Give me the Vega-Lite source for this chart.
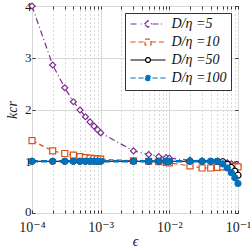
{
  "$schema": "https://vega.github.io/schema/vega-lite/v6.json",
  "width": 206,
  "height": 207,
  "autosize": {"type": "none"},
  "padding": {"left": 32, "top": 6, "right": 12, "bottom": 36},
  "background": "white",
  "config": {
    "view": {"stroke": "#333333", "strokeWidth": 1},
    "font": "Liberation Serif, DejaVu Serif, serif",
    "axis": {"labelFont": "Liberation Serif, DejaVu Serif, serif", "labelFontSize": 13, "labelColor": "#222222", "titleFont": "Liberation Serif, DejaVu Serif, serif", "titleColor": "#222222", "titleFontWeight": "normal", "domain": false, "tickColor": "#333333"}
  },
  "data": {"values": [
    {"eps": 0.0001, "k": 4.0, "series": "D/η =5"},
    {"eps": 0.0002, "k": 2.86, "series": "D/η =5"},
    {"eps": 0.0003, "k": 2.42, "series": "D/η =5"},
    {"eps": 0.0004, "k": 2.15, "series": "D/η =5"},
    {"eps": 0.0005, "k": 1.99, "series": "D/η =5"},
    {"eps": 0.0006, "k": 1.86, "series": "D/η =5"},
    {"eps": 0.0007, "k": 1.76, "series": "D/η =5"},
    {"eps": 0.0008, "k": 1.68, "series": "D/η =5"},
    {"eps": 0.0009, "k": 1.61, "series": "D/η =5"},
    {"eps": 0.001, "k": 1.55, "series": "D/η =5"},
    {"eps": 0.003, "k": 1.2, "series": "D/η =5"},
    {"eps": 0.005, "k": 1.13, "series": "D/η =5"},
    {"eps": 0.007, "k": 1.09, "series": "D/η =5"},
    {"eps": 0.009, "k": 1.07, "series": "D/η =5"},
    {"eps": 0.01, "k": 1.06, "series": "D/η =5"},
    {"eps": 0.02, "k": 1.02, "series": "D/η =5"},
    {"eps": 0.03, "k": 1.01, "series": "D/η =5"},
    {"eps": 0.04, "k": 1.0, "series": "D/η =5"},
    {"eps": 0.05, "k": 1.0, "series": "D/η =5"},
    {"eps": 0.06, "k": 0.99, "series": "D/η =5"},
    {"eps": 0.07, "k": 0.97, "series": "D/η =5"},
    {"eps": 0.08, "k": 0.95, "series": "D/η =5"},
    {"eps": 0.09, "k": 0.93, "series": "D/η =5"},
    {"eps": 0.1, "k": 0.92, "series": "D/η =5"},
    {"eps": 0.0001, "k": 1.4, "series": "D/η =10"},
    {"eps": 0.0002, "k": 1.2, "series": "D/η =10"},
    {"eps": 0.0003, "k": 1.15, "series": "D/η =10"},
    {"eps": 0.0004, "k": 1.12, "series": "D/η =10"},
    {"eps": 0.0005, "k": 1.09, "series": "D/η =10"},
    {"eps": 0.0006, "k": 1.07, "series": "D/η =10"},
    {"eps": 0.0007, "k": 1.06, "series": "D/η =10"},
    {"eps": 0.0008, "k": 1.05, "series": "D/η =10"},
    {"eps": 0.0009, "k": 1.045, "series": "D/η =10"},
    {"eps": 0.001, "k": 1.04, "series": "D/η =10"},
    {"eps": 0.003, "k": 1.01, "series": "D/η =10"},
    {"eps": 0.005, "k": 1.0, "series": "D/η =10"},
    {"eps": 0.007, "k": 0.99, "series": "D/η =10"},
    {"eps": 0.009, "k": 0.98, "series": "D/η =10"},
    {"eps": 0.01, "k": 0.97, "series": "D/η =10"},
    {"eps": 0.02, "k": 0.91, "series": "D/η =10"},
    {"eps": 0.03, "k": 0.87, "series": "D/η =10"},
    {"eps": 0.04, "k": 0.87, "series": "D/η =10"},
    {"eps": 0.05, "k": 0.88, "series": "D/η =10"},
    {"eps": 0.06, "k": 0.89, "series": "D/η =10"},
    {"eps": 0.07, "k": 0.9, "series": "D/η =10"},
    {"eps": 0.08, "k": 0.9, "series": "D/η =10"},
    {"eps": 0.09, "k": 0.9, "series": "D/η =10"},
    {"eps": 0.1, "k": 0.89, "series": "D/η =10"},
    {"eps": 0.0001, "k": 1.0, "series": "D/η =50"},
    {"eps": 0.0002, "k": 1.0, "series": "D/η =50"},
    {"eps": 0.0003, "k": 1.0, "series": "D/η =50"},
    {"eps": 0.0004, "k": 1.0, "series": "D/η =50"},
    {"eps": 0.0005, "k": 1.0, "series": "D/η =50"},
    {"eps": 0.0006, "k": 1.0, "series": "D/η =50"},
    {"eps": 0.0007, "k": 1.0, "series": "D/η =50"},
    {"eps": 0.0008, "k": 1.0, "series": "D/η =50"},
    {"eps": 0.0009, "k": 1.0, "series": "D/η =50"},
    {"eps": 0.001, "k": 1.0, "series": "D/η =50"},
    {"eps": 0.003, "k": 1.0, "series": "D/η =50"},
    {"eps": 0.005, "k": 1.0, "series": "D/η =50"},
    {"eps": 0.007, "k": 1.0, "series": "D/η =50"},
    {"eps": 0.009, "k": 1.0, "series": "D/η =50"},
    {"eps": 0.01, "k": 1.0, "series": "D/η =50"},
    {"eps": 0.02, "k": 1.0, "series": "D/η =50"},
    {"eps": 0.03, "k": 1.0, "series": "D/η =50"},
    {"eps": 0.04, "k": 1.0, "series": "D/η =50"},
    {"eps": 0.05, "k": 1.0, "series": "D/η =50"},
    {"eps": 0.06, "k": 0.99, "series": "D/η =50"},
    {"eps": 0.07, "k": 0.94, "series": "D/η =50"},
    {"eps": 0.08, "k": 0.88, "series": "D/η =50"},
    {"eps": 0.09, "k": 0.81, "series": "D/η =50"},
    {"eps": 0.1, "k": 0.73, "series": "D/η =50"},
    {"eps": 0.0001, "k": 1.0, "series": "D/η =100"},
    {"eps": 0.0002, "k": 1.0, "series": "D/η =100"},
    {"eps": 0.0003, "k": 1.0, "series": "D/η =100"},
    {"eps": 0.0004, "k": 1.0, "series": "D/η =100"},
    {"eps": 0.0005, "k": 1.0, "series": "D/η =100"},
    {"eps": 0.0006, "k": 1.0, "series": "D/η =100"},
    {"eps": 0.0007, "k": 1.0, "series": "D/η =100"},
    {"eps": 0.0008, "k": 1.0, "series": "D/η =100"},
    {"eps": 0.0009, "k": 1.0, "series": "D/η =100"},
    {"eps": 0.001, "k": 1.0, "series": "D/η =100"},
    {"eps": 0.003, "k": 1.0, "series": "D/η =100"},
    {"eps": 0.005, "k": 1.0, "series": "D/η =100"},
    {"eps": 0.007, "k": 1.0, "series": "D/η =100"},
    {"eps": 0.009, "k": 1.0, "series": "D/η =100"},
    {"eps": 0.01, "k": 1.0, "series": "D/η =100"},
    {"eps": 0.02, "k": 1.0, "series": "D/η =100"},
    {"eps": 0.03, "k": 1.0, "series": "D/η =100"},
    {"eps": 0.04, "k": 1.0, "series": "D/η =100"},
    {"eps": 0.05, "k": 1.0, "series": "D/η =100"},
    {"eps": 0.06, "k": 0.95, "series": "D/η =100"},
    {"eps": 0.07, "k": 0.87, "series": "D/η =100"},
    {"eps": 0.08, "k": 0.78, "series": "D/η =100"},
    {"eps": 0.09, "k": 0.68, "series": "D/η =100"},
    {"eps": 0.1, "k": 0.57, "series": "D/η =100"}
  ]},
  "layer": [
    {
      "mark": {"type": "line"},
      "encoding": {
        "x": {
          "field": "eps", "type": "quantitative",
          "scale": {"type": "log", "domain": [0.0001, 0.1], "nice": false},
          "axis": {
            "orient": "bottom",
            "values": [0.0001, 0.0002, 0.0003, 0.0004, 0.0005, 0.0006, 0.0007, 0.0008, 0.0009, 0.001, 0.002, 0.003, 0.004, 0.005, 0.006, 0.007, 0.008, 0.009, 0.01, 0.02, 0.03, 0.04, 0.05, 0.06, 0.07, 0.08, 0.09, 0.1],
            "labelExpr": "datum.value == 0.0001 ? '10⁻⁴' : datum.value == 0.001 ? '10⁻³' : datum.value == 0.01 ? '10⁻²' : datum.value == 0.1 ? '10⁻¹' : ''",
            "labelOverlap": false,
            "labelFlush": false,
            "labelPadding": 10,
            "labelFontSize": 14,
            "tickSize": -3,
            "grid": true,
            "gridColor": {"condition": {"test": "datum.value == 0.0001 || datum.value == 0.001 || datum.value == 0.01 || datum.value == 0.1", "value": "#d8d8d8"}, "value": "#b5b5b5"},
            "gridDash": {"condition": {"test": "datum.value == 0.0001 || datum.value == 0.001 || datum.value == 0.01 || datum.value == 0.1", "value": []}, "value": [1, 3]},
            "title": "ϵ",
            "titleFontSize": 14,
            "titleFontStyle": "italic",
            "titlePadding": 0
          }
        },
        "y": {
          "field": "k", "type": "quantitative",
          "scale": {"domain": [0, 4], "nice": false},
          "axis": {
            "orient": "left",
            "values": [0, 1, 2, 3, 4],
            "grid": true,
            "gridColor": "#d8d8d8",
            "tickSize": -3,
            "labelPadding": 4,
            "labelOffset": {"condition": {"test": "datum.value == 0", "value": -2}, "value": 0},
            "title": "kcr",
            "titleFontSize": 14,
            "titleFontStyle": "italic",
            "titlePadding": 5
          }
        },
        "color": {
          "field": "series", "type": "nominal",
          "scale": {"domain": ["D/η =5", "D/η =10", "D/η =50", "D/η =100"], "range": ["#7E2F8E", "#D95319", "#000000", "#0072BD"]},
          "legend": {
            "orient": "top-right", "offset": 7, "title": null,
            "symbolType": "stroke", "symbolSize": 1225, "symbolStrokeWidth": 1.2, "symbolOffset": 0,
            "clipHeight": 13,
            "labelFont": "Liberation Serif, DejaVu Serif, serif", "labelFontSize": 14, "labelFontStyle": "italic", "labelColor": "#111111",
            "labelOffset": 5, "rowPadding": 3, "padding": 4.5,
            "fillColor": "white", "strokeColor": "#333333", "cornerRadius": 0,
            "encode": {
              "legend": {"update": {"stroke": {"value": "#333333"}, "strokeWidth": {"value": 1}, "fill": {"value": "white"}}},
              "symbols": {"update": {
                "shape": {"signal": "datum.value === 'D/η =5' ? 'M-1,0H-0.55M-0.42,0H-0.36M-0.2,0L0,-0.2L0.2,0L0,0.2ZM0.26,0H0.6M0.74,0H0.8' : datum.value === 'D/η =10' ? 'M-1,0H-0.17M-0.17,-0.17H0.17V0.17H-0.17ZM0.17,0H1' : datum.value === 'D/η =50' ? 'M-1,0H-0.14M-0.14,0A0.14,0.14 0 1,0 0.14,0A0.14,0.14 0 1,0 -0.14,0ZM0.14,0H1' : 'M-1,0H-0.7M-0.55,0H-0.25M-0.15,0A0.15,0.15 0 1,0 0.15,0A0.15,0.15 0 1,0 -0.15,0ZM0.25,0H0.55M0.7,0H1'"},
                "fill": {"signal": "datum.value === 'D/η =100' ? '#0072BD' : 'white'"},
                "strokeWidth": {"value": 1.2},
                "strokeDash": {"value": []}
              }}
            }
          }
        },
        "strokeDash": {
          "field": "series", "type": "nominal",
          "scale": {"domain": ["D/η =5", "D/η =10", "D/η =50", "D/η =100"], "range": [[6, 3, 1, 3], [5, 3], [1, 0], [6, 3]]},
          "legend": null
        },
        "strokeWidth": {"condition": {"test": "datum.series === 'D/η =100'", "value": 2.5}, "value": 1.2}
      }
    },
    {
      "mark": {"type": "point", "filled": true, "size": 36, "strokeWidth": 1.2, "opacity": 1},
      "encoding": {
        "x": {
          "field": "eps", "type": "quantitative",
          "axis": {"orient": "top", "values": [0.0001, 0.0002, 0.0003, 0.0004, 0.0005, 0.0006, 0.0007, 0.0008, 0.0009, 0.001, 0.002, 0.003, 0.004, 0.005, 0.006, 0.007, 0.008, 0.009, 0.01, 0.02, 0.03, 0.04, 0.05, 0.06, 0.07, 0.08, 0.09, 0.1], "labels": false, "grid": false, "tickSize": -3, "title": null}
        },
        "y": {
          "field": "k", "type": "quantitative",
          "axis": {"orient": "right", "values": [0, 1, 2, 3, 4], "labels": false, "grid": false, "tickSize": -3, "title": null}
        },
        "shape": {
          "field": "series", "type": "nominal", "sort": null,
          "scale": {"range": ["diamond", "square", "circle", "circle"]},
          "legend": null
        },
        "fill": {
          "field": "series", "type": "nominal", "sort": null,
          "scale": {"range": ["white", "white", "white", "#0072BD"]},
          "legend": null
        },
        "stroke": {
          "field": "series", "type": "nominal", "sort": null,
          "scale": {"range": ["#7E2F8E", "#D95319", "#000000", "#0072BD"]},
          "legend": null
        }
      }
    }
  ],
  "resolve": {"axis": {"x": "independent", "y": "independent"}}
}
